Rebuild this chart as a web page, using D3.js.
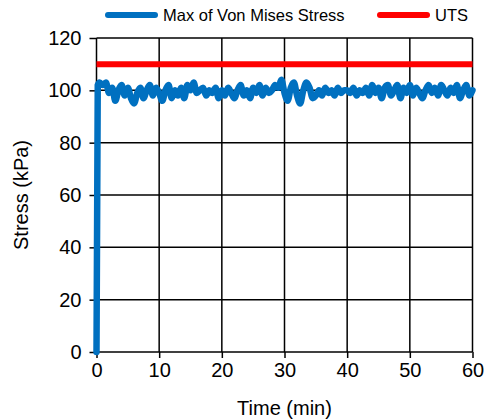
<!DOCTYPE html>
<html>
<head>
<meta charset="utf-8">
<script src="https://cdn.jsdelivr.net/npm/d3@7"></script>
<style>
	body { margin: 0; background: #fff; }
	svg { display: block; font-family: "Liberation Sans", Arial, sans-serif; }
</style>
</head>
<body>
<div id="chart" style="width:484px;height:419px"></div>
<script>
// time in minutes, stress in kPa
const times = [0, 0.2, 0.5, 1, 1.5, 2, 2.5, 3, 3.5, 4, 4.5, 5, 5.5, 6, 6.5, 7, 7.5, 8, 8.5, 9, 9.5, 10,
	10.5, 11, 11.5, 12, 12.5, 13, 13.5, 14, 14.5, 15, 15.5, 16, 16.5, 17, 17.5, 18, 18.5, 19, 19.5, 20,
	20.5, 21, 21.5, 22, 22.5, 23, 23.5, 24, 24.5, 25, 25.5, 26, 26.5, 27, 27.5, 28, 28.5, 29, 29.5, 30,
	30.5, 31, 31.5, 32, 32.5, 33, 33.5, 34, 34.5, 35, 35.5, 36, 36.5, 37, 37.5, 38, 38.5, 39, 39.5, 40,
	40.5, 41, 41.5, 42, 42.5, 43, 43.5, 44, 44.5, 45, 45.5, 46, 46.5, 47, 47.5, 48, 48.5, 49, 49.5, 50,
	50.5, 51, 51.5, 52, 52.5, 53, 53.5, 54, 54.5, 55, 55.5, 56, 56.5, 57, 57.5, 58, 58.5, 59, 59.5, 60];
const vonMises = [0, 102, 103, 102, 103, 99, 101, 96, 100, 102, 98, 101, 97, 95, 99, 101, 97, 100, 102, 98, 101, 99,
	96, 100, 102, 97, 100, 98, 101, 97, 102, 100, 103, 99, 100, 101, 98, 100, 99, 101, 97, 100,
	98, 101, 99, 97, 100, 102, 98, 100, 97, 101, 99, 102, 98, 101, 99, 100, 102, 101, 104, 99,
	96, 101, 103, 98, 95, 100, 103, 101, 97, 98, 100, 98, 101, 99, 100, 98, 101, 99, 100, 100,
	99, 101, 98, 100, 99, 101, 98, 102, 99, 101, 97, 101, 102, 98, 100, 102, 97, 101, 99, 102,
	98, 101, 99, 97, 100, 102, 99, 101, 98, 102, 100, 98, 101, 99, 102, 97, 100, 102, 98, 100];
const utsTimes = [0, 60];
const utsValues = [110, 110];
const xTicks = [0, 10, 20, 30, 40, 50, 60];
const yTicks = [0, 20, 40, 60, 80, 100, 120];

const width = 484, height = 419;
const margin = {top: 38, right: 11.5, bottom: 67, left: 96.5};

const svg = d3.select("#chart").append("svg")
	.attr("width", width)
	.attr("height", height);

const x = d3.scaleLinear()
	.domain([0, 60])
	.range([margin.left, width - margin.right]);
const y = d3.scaleLinear()
	.domain([0, 120])
	.range([height - margin.bottom, margin.top]);

// grid
svg.append("g")
	.selectAll("line.vgrid")
	.data(xTicks)
	.enter()
	.append("line")
	.attr("class", "vgrid")
	.attr("x1", d => x(d)).attr("x2", d => x(d))
	.attr("y1", y(0)).attr("y2", y(120))
	.attr("stroke", "#000")
	.attr("stroke-width", 1.5);
svg.append("g")
	.selectAll("line.hgrid")
	.data(yTicks)
	.enter()
	.append("line")
	.attr("class", "hgrid")
	.attr("x1", x(0)).attr("x2", x(60))
	.attr("y1", d => y(d)).attr("y2", d => y(d))
	.attr("stroke", "#000")
	.attr("stroke-width", 1.5);

// axes
let xAxis = g => g
	.attr("transform", `translate(0,${height - margin.bottom})`)
	.call(d3.axisBottom(x).tickValues(xTicks).tickSize(6).tickPadding(5).tickFormat(d3.format("d")))
	.call(g => g.select(".domain").remove());
svg.append("g")
	.attr("class", "xaxis")
	.style("font-size", "20px")
	.style("font-family", "Liberation Sans, Arial, sans-serif")
	.call(xAxis);

let yAxis = g => g
	.attr("transform", `translate(${margin.left},0)`)
	.call(d3.axisLeft(y).tickValues(yTicks).tickSize(7).tickPadding(8).tickFormat(d3.format("d")))
	.call(g => g.select(".domain").remove());
svg.append("g")
	.attr("class", "yaxis")
	.style("font-size", "20px")
	.style("font-family", "Liberation Sans, Arial, sans-serif")
	.call(yAxis);

svg.selectAll(".tick line").attr("stroke", "#000").attr("stroke-width", 1.5);
svg.selectAll(".tick text").attr("fill", "#000");

// series
let line = d3.line()
	.x(d => x(d[0]))
	.y(d => y(d[1]))
	.curve(d3.curveMonotoneX);

svg.append("path")
	.datum(utsTimes.map((t, i) => [t, utsValues[i]]))
	.attr("fill", "none")
	.attr("stroke", "#ff0000")
	.attr("stroke-width", 6)
	.attr("d", d3.line().x(d => x(d[0])).y(d => y(d[1])));

svg.append("path")
	.datum(times.map((t, i) => [t, vonMises[i]]))
	.attr("fill", "none")
	.attr("stroke", "#0070c0")
	.attr("stroke-width", 6.5)
	.attr("stroke-linejoin", "round")
	.attr("stroke-linecap", "round")
	.attr("d", line);

// axis titles
svg.append("text")
	.attr("x", (x(0) + x(60)) / 2)
	.attr("y", 415)
	.attr("text-anchor", "middle")
	.style("font-size", "20px")
	.text("Time (min)");
svg.append("text")
	.attr("transform", `translate(28,${(y(0) + y(120)) / 2}) rotate(-90)`)
	.attr("text-anchor", "middle")
	.style("font-size", "20px")
	.text("Stress (kPa)");

// legend
const legend = [
	{name: "Max of Von Mises Stress", color: "#0070c0", x: 108},
	{name: "UTS", color: "#ff0000", x: 380}
];
let lg = svg.append("g").selectAll("g").data(legend).enter().append("g");
lg.append("line")
	.attr("x1", d => d.x).attr("x2", d => d.x + 47)
	.attr("y1", 15).attr("y2", 15)
	.attr("stroke", d => d.color)
	.attr("stroke-width", 6)
	.attr("stroke-linecap", "round");
lg.append("text")
	.attr("x", d => d.x + 55)
	.attr("y", 21)
	.style("font-size", "16.5px")
	.text(d => d.name);
</script>
</body>
</html>
